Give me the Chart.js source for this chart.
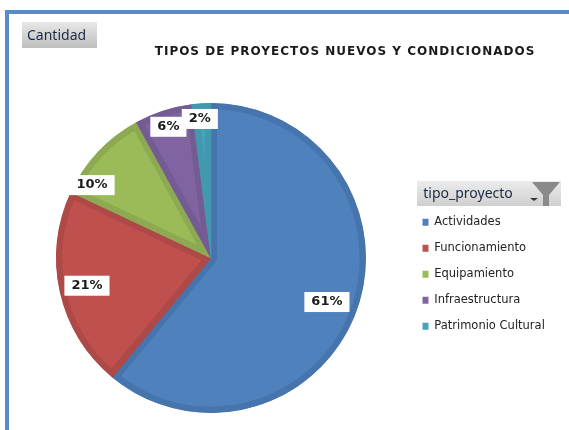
<!DOCTYPE html>
<html>
<head>
<meta charset="utf-8">
<style>
  html, body { margin: 0; background: #fff; }
  canvas { display: block; }
</style>
<script src="https://cdn.jsdelivr.net/npm/chart.js@4"></script>
</head>
<body>
<canvas id="myChart" width="569" height="430"></canvas>
<script>
const categories = ["Actividades", "Funcionamiento", "Equipamiento", "Infraestructura", "Patrimonio Cultural"];
const values = [61, 21, 10, 6, 2];
const fills = ["#4f81bd", "#c0504d", "#9bbb59", "#8064a2", "#47a2ba"];
const edges = ["#4674ad", "#ad4946", "#8daa52", "#745b93", "#4298ae"];

// where each percent box sits, as a share of the radius and a turn off the slice middle
const labelRadius = [0.8, 0.82, 0.9, 0.89, 0.9];
const labelTurn = [1, 0, -11.7, 0, -1];

const uiFont = '"Noto Sans", sans-serif';

function bar(ctx, x, y, w, h, from, to) {
  const g = ctx.createLinearGradient(0, y, 0, y + h);
  g.addColorStop(0, from);
  g.addColorStop(1, to);
  ctx.fillStyle = g;
  ctx.fillRect(x, y, w, h);
}

// blue frame, the two grey field buttons and the funnel
const backdrop = {
  id: "backdrop",
  afterInit(chart) {
    // the title is spaced out wider than the font gives
    const drawTitle = chart.titleBlock.draw;
    chart.titleBlock.draw = function () {
      chart.ctx.letterSpacing = "1px";
      drawTitle.call(this);
      chart.ctx.letterSpacing = "0px";
    };
  },
  beforeDraw(chart) {
    const ctx = chart.ctx;
    ctx.save();
    ctx.fillStyle = "#fff";
    ctx.fillRect(0, 0, 569, 430);
    ctx.fillStyle = "#5b8bc6";
    ctx.fillRect(5, 10, 564, 4);
    ctx.fillRect(5, 10, 4, 420);

    bar(ctx, 22, 22, 75, 26, "#e8e8e8", "#bebebe");
    ctx.fillStyle = "#1b2b44";
    ctx.font = "14px " + uiFont;
    ctx.textBaseline = "middle";
    ctx.fillText("Cantidad", 27, 36);

    bar(ctx, 417, 181, 144, 25, "#ececec", "#cfcfcf");
    ctx.fillStyle = "#8a8a8a";
    ctx.beginPath();
    ctx.moveTo(532, 182);
    ctx.lineTo(560, 182);
    ctx.lineTo(549, 195);
    ctx.lineTo(549, 206);
    ctx.lineTo(543, 206);
    ctx.lineTo(543, 195);
    ctx.closePath();
    ctx.fill();
    ctx.fillStyle = "#333";
    ctx.beginPath();
    ctx.moveTo(530, 198);
    ctx.lineTo(538, 198);
    ctx.lineTo(534, 201);
    ctx.closePath();
    ctx.fill();
    ctx.restore();
  },
  afterLayout(chart) {
    // title and legend sit off centre in the original
    chart.titleBlock.left = 120;
    chart.titleBlock.right = 570;
    chart.legend.left = 408;
    chart.legend.right = 569;
    chart.legend.width = 120;
    chart.legend.top = 173;
    chart.legend.bottom = 420;
  },
};

// white boxes with the percentages
const percentBoxes = {
  id: "percentBoxes",
  afterDatasetsDraw(chart) {
    const ctx = chart.ctx;
    const total = values.reduce((a, b) => a + b, 0);
    ctx.save();
    ctx.font = "bold 13px 'DejaVu Sans', sans-serif";
    ctx.textAlign = "center";
    ctx.textBaseline = "middle";
    chart.getDatasetMeta(0).data.forEach((arc, i) => {
      const p = arc.getProps(["x", "y", "startAngle", "endAngle", "outerRadius"], true);
      const mid = (p.startAngle + p.endAngle) / 2 + labelTurn[i] * Math.PI / 180;
      const x = p.x + Math.cos(mid) * p.outerRadius * labelRadius[i];
      const y = p.y + Math.sin(mid) * p.outerRadius * labelRadius[i];
      const text = Math.round(values[i] / total * 100) + "%";
      const w = ctx.measureText(text).width + 14;
      ctx.fillStyle = "#fff";
      ctx.fillRect(x - w / 2, y - 10, w, 20);
      ctx.fillStyle = "#1a1a1a";
      ctx.fillText(text, x, y);
    });
    ctx.restore();
  },
};

const ctx = document.getElementById("myChart").getContext("2d");

const myChart = new Chart(ctx, {
  type: "pie",
  data: {
    labels: categories,
    datasets: [
      {
        label: "Cantidad",
        data: values,
        backgroundColor: fills,
        borderColor: edges,
        borderWidth: 6,
        borderAlign: "inner",
      },
    ],
  },
  options: {
    responsive: false,
    animation: false,
    layout: { padding: { left: 55, right: 202, top: 45, bottom: 17 } },
    plugins: {
      tooltip: { enabled: false },
      title: {
        display: true,
        text: "TIPOS DE PROYECTOS NUEVOS Y CONDICIONADOS",
        color: "#1a1a1a",
        font: { family: "'DejaVu Sans', sans-serif", size: 12, weight: "bold" },
        padding: { top: 0, bottom: 43.6 },
      },
      legend: {
        position: "chartArea",
        align: "start",
        title: {
          display: true,
          text: "tipo_proyecto",
          color: "#1b2b44",
          font: { family: uiFont, size: 14, lineHeight: 1 },
          padding: { top: 14, bottom: 1 },
        },
        labels: {
          boxWidth: 6,
          boxHeight: 7,
          padding: 14.5,
          color: "#222",
          font: { family: "'DejaVu Sans', sans-serif", size: 11.5 },
          generateLabels(chart) {
            const items = Chart.overrides.pie.plugins.legend.labels.generateLabels(chart);
            return items.map((item) => ({ ...item, lineWidth: 0 }));
          },
        },
      },
    },
  },
  plugins: [backdrop, percentBoxes],
});
</script>
</body>
</html>
